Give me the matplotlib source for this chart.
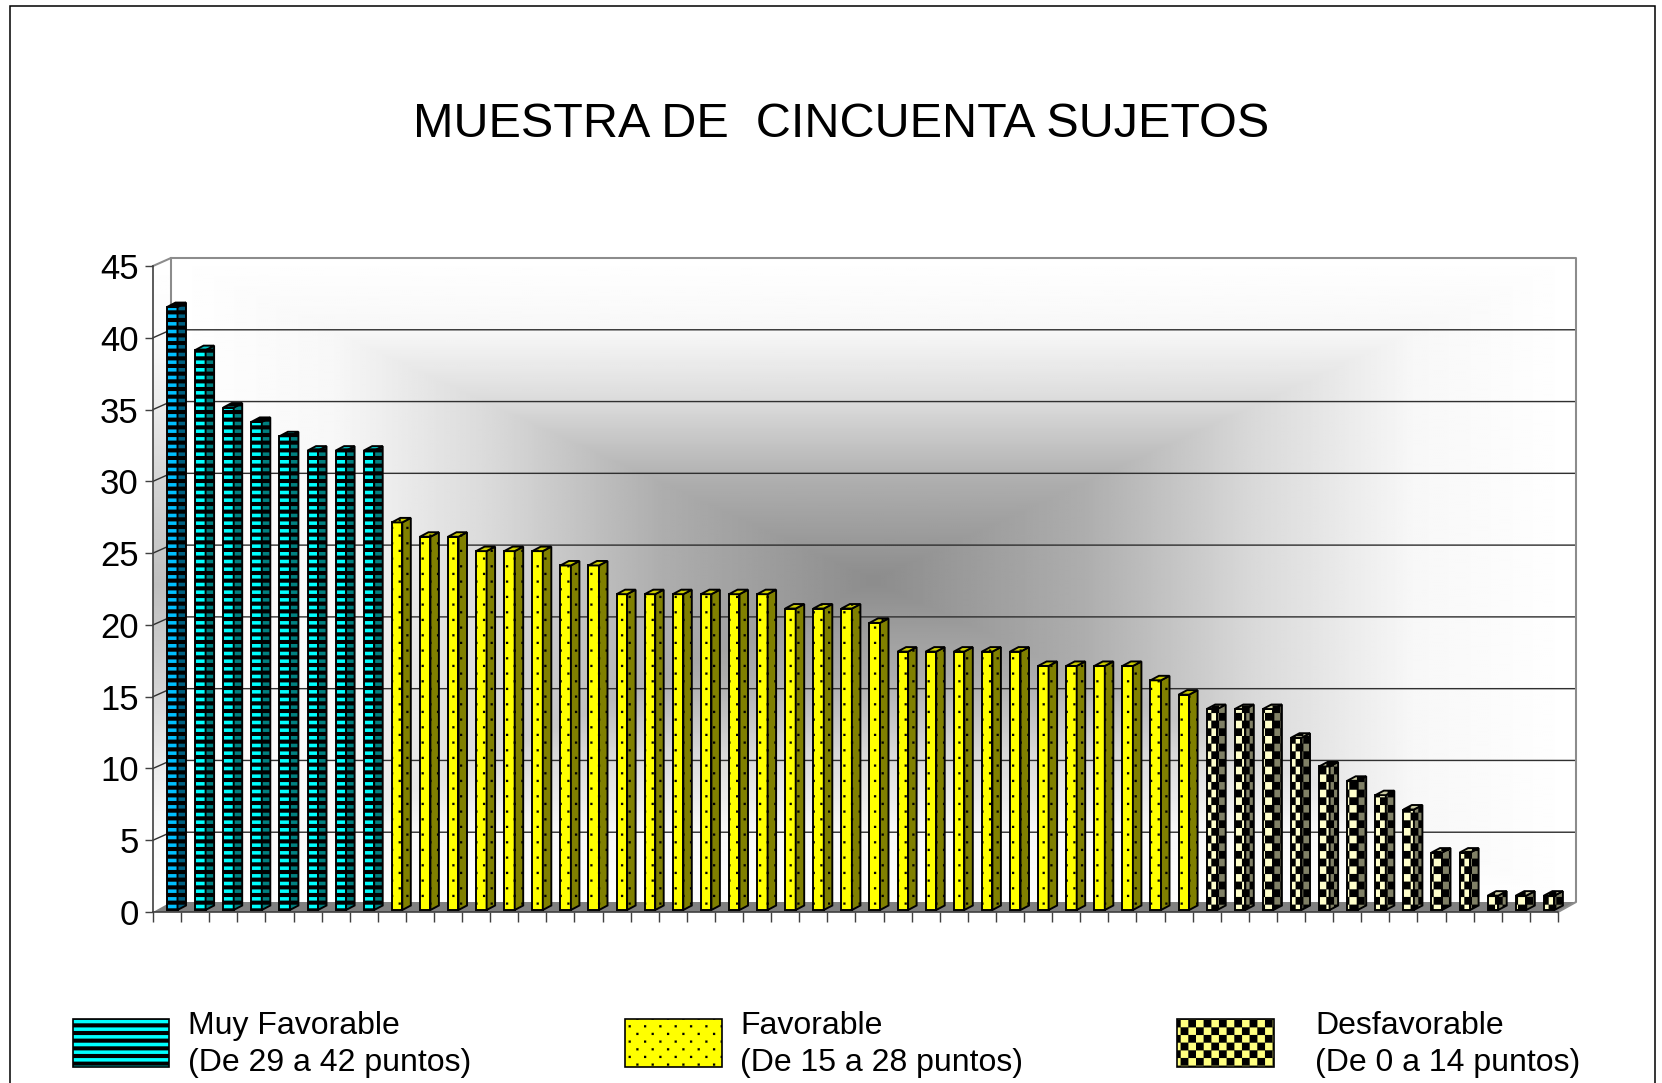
"""Bar chart of the fifty subjects, drawn with a fake 3D look."""

import matplotlib

matplotlib.use("Agg")
import matplotlib.hatch as mhatch
import matplotlib.pyplot as plt
import numpy as np
from matplotlib.patches import Polygon, Rectangle
from matplotlib.path import Path

muy_favorable = [42, 39, 35, 34, 33, 32, 32, 32]
favorable = [27, 26, 26, 25, 25, 25, 24, 24, 22, 22, 22, 22, 22, 22, 21, 21, 21, 20,
             18, 18, 18, 18, 18, 17, 17, 17, 17, 16, 15]
desfavorable = [14, 14, 14, 12, 10, 9, 8, 7, 4, 4, 1, 1, 1]
y_ticks = [0, 5, 10, 15, 20, 25, 30, 35, 40, 45]
title = "MUESTRA DE  CINCUENTA SUJETOS"
legend_labels = ["Muy Favorable\n(De 29 a 42 puntos)",
                 "Favorable\n(De 15 a 28 puntos)",
                 "Desfavorable\n(De 0 a 14 puntos)"]

W, H = 1662, 1083
DPI = 1662 / 18
FONT = ["Liberation Sans", "DejaVu Sans"]


# matplotlib has no checker hatch, and its dots and stripes have the wrong pitch
class RectHatch(mhatch.HatchPatternBase):
    filled = True

    def __init__(self, hatch, density):
        self.rects = []
        n = 12
        s = 1 / n
        if "-" in hatch:
            self.rects = [(0, i * s, 1, s * 0.52) for i in range(n)]
        elif "." in hatch:
            d = 0.023
            for r in range(n):
                for c in range(n // 2):
                    self.rects.append(((c + 0.5 * (r % 2)) * 2 * s, r * s, d, d))
        elif "X" in hatch:
            for r in range(n):
                for c in range(n):
                    if (r + c) % 2:
                        self.rects.append((c * s, r * s, s, s))
        self.num_vertices = len(self.rects) * 5

    def set_vertices_and_codes(self, vertices, codes):
        for k, (x, y, w, h) in enumerate(self.rects):
            vertices[k * 5:k * 5 + 5] = [(x, y), (x, y + h), (x + w, y + h), (x + w, y), (x, y)]
            codes[k * 5:k * 5 + 5] = [Path.MOVETO, Path.LINETO, Path.LINETO, Path.LINETO, Path.CLOSEPOLY]


mhatch._hatch_types = [RectHatch]
plt.rcParams["hatch.linewidth"] = 0.1
plt.rcParams["font.family"] = FONT

fig = plt.figure(figsize=(18, H / DPI), dpi=DPI)

# front plane of the plot, in pixels from the top left
left, right, top, bottom = 153, 1558, 266, 912
ax = fig.add_axes([left / W, 1 - bottom / H, (right - left) / W, (bottom - top) / H])
ax.set_facecolor("none")
n_bars = len(muy_favorable) + len(favorable) + len(desfavorable)
ax.set_xlim(0, n_bars)
ax.set_ylim(0, 45)
px_x = (right - left) / n_bars
px_y = (bottom - top) / 45
depth_x, depth_y = 18 / px_x, 8 / px_y
floor_y = 10 / px_y
bar_dx, bar_dy = 8.5 / px_x, 4.5 / px_y
bar_width = 10.5 / px_x
bar_offset = 14 / px_x
bar_base = 2 / px_y


def shade(t):
    return np.interp(t, [0, 0.3, 0.54, 0.77, 1], [0.55, 0.68, 0.85, 0.97, 1.0])


# back wall gradient
gx, gy = np.meshgrid(np.linspace(-1, 1, 703), np.linspace(-1, 1, 322))
wall = shade(np.maximum(np.abs(gx), np.abs(gy)))
ax.imshow(wall, cmap="gray", vmin=0, vmax=1, aspect="auto", clip_on=False, zorder=0, interpolation="bilinear",
          extent=(depth_x, n_bars + depth_x, depth_y, 45 + depth_y))

# side wall, lighter than the back wall
side = ax.imshow(0.45 + 0.55 * shade(np.abs(gy[:, :2])), cmap="gray", vmin=0, vmax=1,
                 aspect="auto", zorder=0, interpolation="bilinear", extent=(0, depth_x, 0, 45 + depth_y))
side.set_clip_path(Polygon([(0, 0), (depth_x, depth_y), (depth_x, 45 + depth_y), (0, 45)], transform=ax.transData))

# floor
ax.add_patch(Polygon([(0, 0), (n_bars, 0), (n_bars + depth_x, floor_y), (depth_x, floor_y)],
                     facecolor="#808080", edgecolor="none", clip_on=False, zorder=1))

# gridlines with their slanted part on the side wall
for v in y_ticks[1:-1]:
    ax.plot([0, depth_x, n_bars + depth_x], [v, v + depth_y, v + depth_y], color="#303030", lw=1.1,
            clip_on=False, zorder=1, solid_joinstyle="miter")
ax.plot([0, depth_x, n_bars + depth_x, n_bars + depth_x, n_bars], [45, 45 + depth_y, 45 + depth_y, floor_y, 0],
        color="#8c8c8c", lw=1.6, clip_on=False, zorder=1)
ax.plot([depth_x, depth_x], [floor_y, 45 + depth_y], color="#8c8c8c", lw=1.6, clip_on=False, zorder=1)

# (front, side, top) colours
styles = [
    (muy_favorable, "-", ("#00FFFF", "#008080", "#00CCCC")),
    (favorable, ".", ("#FFFF00", "#808000", "#CCCC00")),
    (desfavorable, "X", ("#FFFFCC", "#808066", "#CCCCA3")),
]
BAR_LW = 1.5
pos = 0
for values, hatch, (front_c, side_c, top_c) in styles:
    for v in values:
        if pos == 0:
            # the first bar is a different blue
            fc, sc, tc = "#00BFFF", "#005F80", "#0099CC"
        else:
            fc, sc, tc = front_c, side_c, top_c
        x0 = pos + bar_offset
        x1 = x0 + bar_width
        y1 = bar_base + v
        ax.bar(x0, v, width=bar_width, bottom=bar_base, align="edge", facecolor=fc, edgecolor="black",
               hatch=hatch, linewidth=BAR_LW, zorder=3, clip_on=False)
        ax.add_patch(Polygon([(x1, bar_base), (x1 + bar_dx, bar_base + bar_dy), (x1 + bar_dx, y1 + bar_dy), (x1, y1)],
                             facecolor=sc, edgecolor="black", hatch=hatch, linewidth=BAR_LW, zorder=3, clip_on=False))
        ax.add_patch(Polygon([(x0, y1), (x1, y1), (x1 + bar_dx, y1 + bar_dy), (x0 + bar_dx, y1 + bar_dy)],
                             facecolor=tc, edgecolor="black", hatch=hatch, linewidth=BAR_LW, zorder=3, clip_on=False))
        pos += 1

for name in ("top", "right"):
    ax.spines[name].set_visible(False)
for name in ("left", "bottom"):
    ax.spines[name].set_color("#404040")
    ax.spines[name].set_linewidth(1.3)
    ax.spines[name].set_zorder(2)
ax.set_yticks(y_ticks)
ax.set_xticks(np.arange(n_bars + 1))
ax.set_xticklabels([])
ax.tick_params(axis="y", length=6.2, width=1.1, color="#404040", labelsize=27, pad=5)
ax.tick_params(axis="x", length=7.5, width=1.1, color="#404040")

fig.text(841 / W, 1 - 137 / H, title, fontsize=37.9, ha="center", va="baseline", color="black")

# legend
swatches = [(73, 169, "#00FFFF", "-"), (625, 722, "#FFFF00", "."), (1177, 1274, "#FFFF80", "X")]
text_x = [188, 740, 1315]
for (x0, x1, color, hatch), tx, label in zip(swatches, text_x, legend_labels):
    fig.add_artist(Rectangle((x0 / W, 1 - 1067 / H), (x1 - x0) / W, 48 / H, transform=fig.transFigure,
                             facecolor=color, edgecolor="black", hatch=hatch, linewidth=1.3))
    first, second = label.split("\n")
    fig.text(tx / W, 1 - 1034 / H, first, fontsize=25, va="baseline")
    fig.text(tx / W, 1 - 1071 / H, second, fontsize=25, va="baseline")

# outer border, its lower edge is outside the picture
fig.add_artist(Rectangle((9.5 / W, -0.02), 1645.5 / W, 1.02 - 6 / H, transform=fig.transFigure,
                         facecolor="none", edgecolor="black", linewidth=1.2))

fig.savefig("out.png", dpi=DPI)
